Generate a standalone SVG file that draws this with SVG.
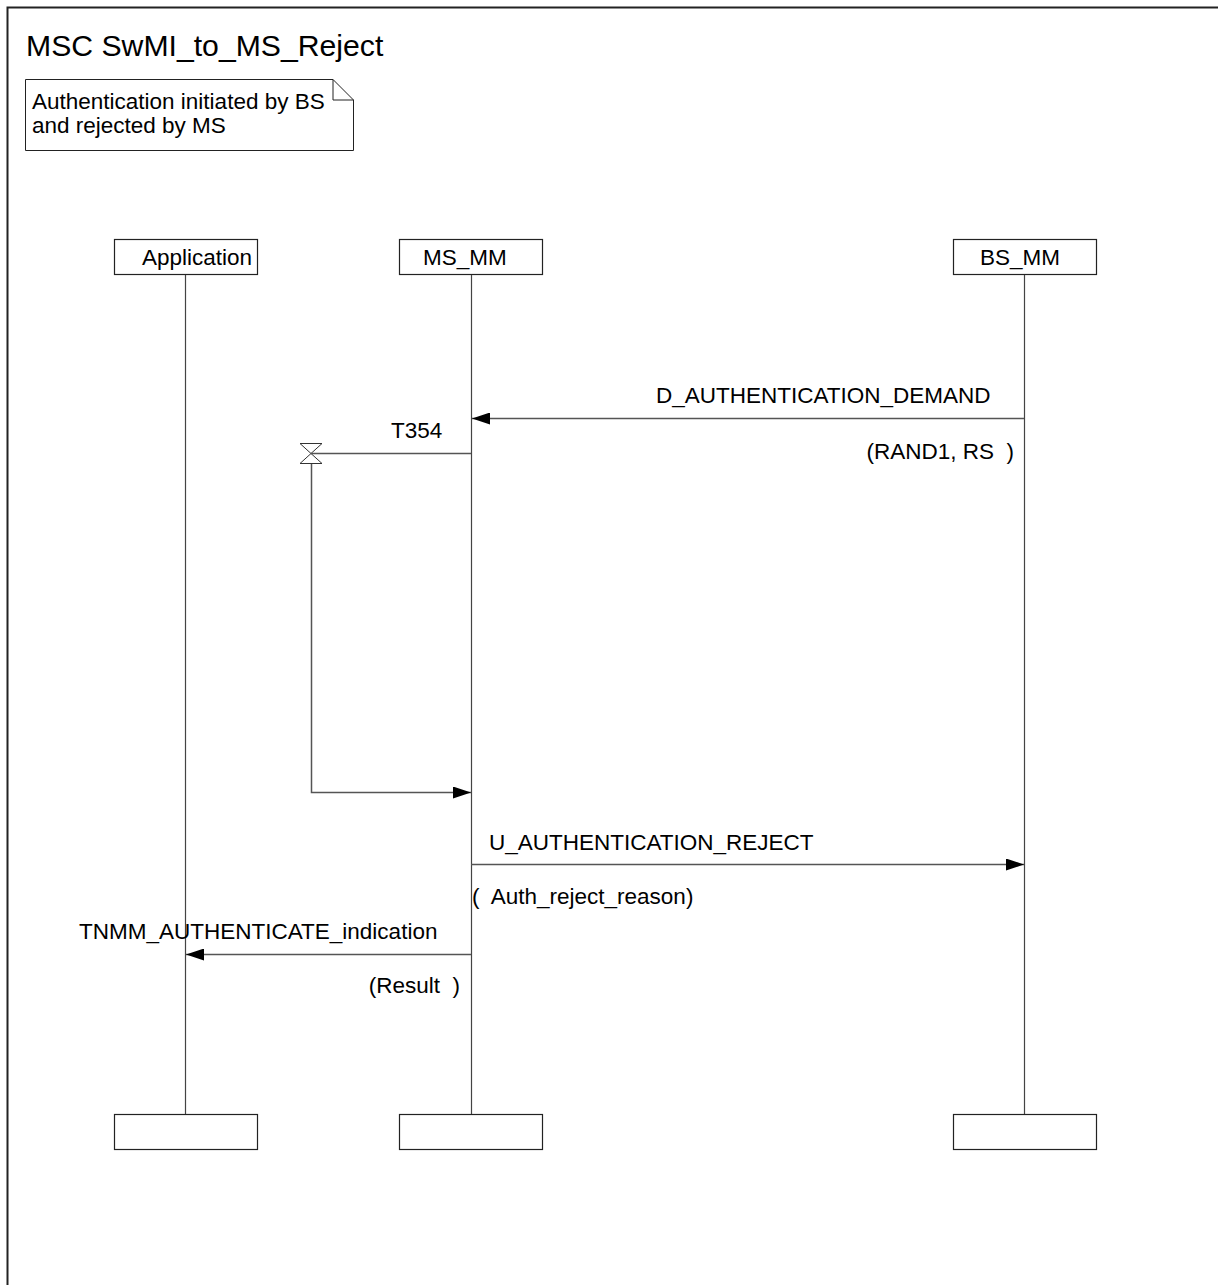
<svg xmlns="http://www.w3.org/2000/svg" width="1218" height="1285" viewBox="0 0 1218 1285">
<defs>
<marker id="ah" markerWidth="18" markerHeight="12" refX="18" refY="6" orient="auto" markerUnits="userSpaceOnUse">
<path d="M0,0 L18,6 L0,12 Z" fill="#000"/>
</marker>
</defs>
<style>
text{font-family:"Liberation Sans",Arial,sans-serif;fill:#000}
.lbl{font-size:22.5px}
.box{fill:#fff;stroke:#222;stroke-width:1.2}
.life{stroke:#444;stroke-width:1.2;fill:none}
.msg{stroke:#555;stroke-width:1.5;fill:none}
</style>
<rect width="1218" height="1285" fill="#fff"/>
<path d="M7.5,1285 V7.5 H1218" fill="none" stroke="#222" stroke-width="2"/>
<text x="26" y="56" font-size="30.2">MSC SwMI_to_MS_Reject</text>
<g id="note">
<path d="M25.5,79.5 H333 L353.5,100 V150.5 H25.5 Z" fill="#fff" stroke="#222" stroke-width="1"/>
<path d="M333,79.5 V100 H353.5" fill="none" stroke="#222" stroke-width="1"/>
<text class="lbl" x="32" y="109">Authentication initiated by BS</text>
<text class="lbl" x="32" y="133">and rejected by MS</text>
</g>
<g id="Application">
<rect class="box" x="114.5" y="239.5" width="143" height="35"/>
<text class="lbl" x="142" y="265">Application</text>
<line class="life" x1="185.5" y1="275" x2="185.5" y2="1114"/>
<rect class="box" x="114.5" y="1114.5" width="143" height="35"/>
</g>
<g id="MS_MM">
<rect class="box" x="399.5" y="239.5" width="143" height="35"/>
<text class="lbl" x="423" y="265">MS_MM</text>
<line class="life" x1="471.5" y1="275" x2="471.5" y2="1114"/>
<rect class="box" x="399.5" y="1114.5" width="143" height="35"/>
</g>
<g id="BS_MM">
<rect class="box" x="953.5" y="239.5" width="143" height="35"/>
<text class="lbl" x="980" y="265">BS_MM</text>
<line class="life" x1="1024.5" y1="275" x2="1024.5" y2="1114"/>
<rect class="box" x="953.5" y="1114.5" width="143" height="35"/>
</g>
<g id="timer">
<path d="M300,443.5 H322 L300,463.5 H322 Z" fill="#fff" stroke="#333" stroke-width="1"/>
<text class="lbl" x="391" y="438">T354</text>
</g>
<g id="connectors">
<line class="msg" x1="1024" y1="418.5" x2="472" y2="418.5" marker-end="url(#ah)"/>
<line class="msg" x1="471" y1="453.5" x2="311" y2="453.5"/>
<polyline class="msg" points="311.5,464 311.5,792.5 471,792.5" marker-end="url(#ah)"/>
<line class="msg" x1="471" y1="864.5" x2="1024" y2="864.5" marker-end="url(#ah)"/>
<line class="msg" x1="471" y1="954.5" x2="186" y2="954.5" marker-end="url(#ah)"/>
</g>
<g id="labels">
<text class="lbl" x="656" y="403">D_AUTHENTICATION_DEMAND</text>
<text class="lbl" x="1014" y="459" text-anchor="end" xml:space="preserve">(RAND1, RS  )</text>
<text class="lbl" x="489" y="850">U_AUTHENTICATION_REJECT</text>
<text class="lbl" x="472" y="904" xml:space="preserve">(  Auth_reject_reason)</text>
<text class="lbl" x="79" y="939">TNMM_AUTHENTICATE_indication</text>
<text class="lbl" x="460" y="993" text-anchor="end" xml:space="preserve">(Result  )</text>
</g>
</svg>
